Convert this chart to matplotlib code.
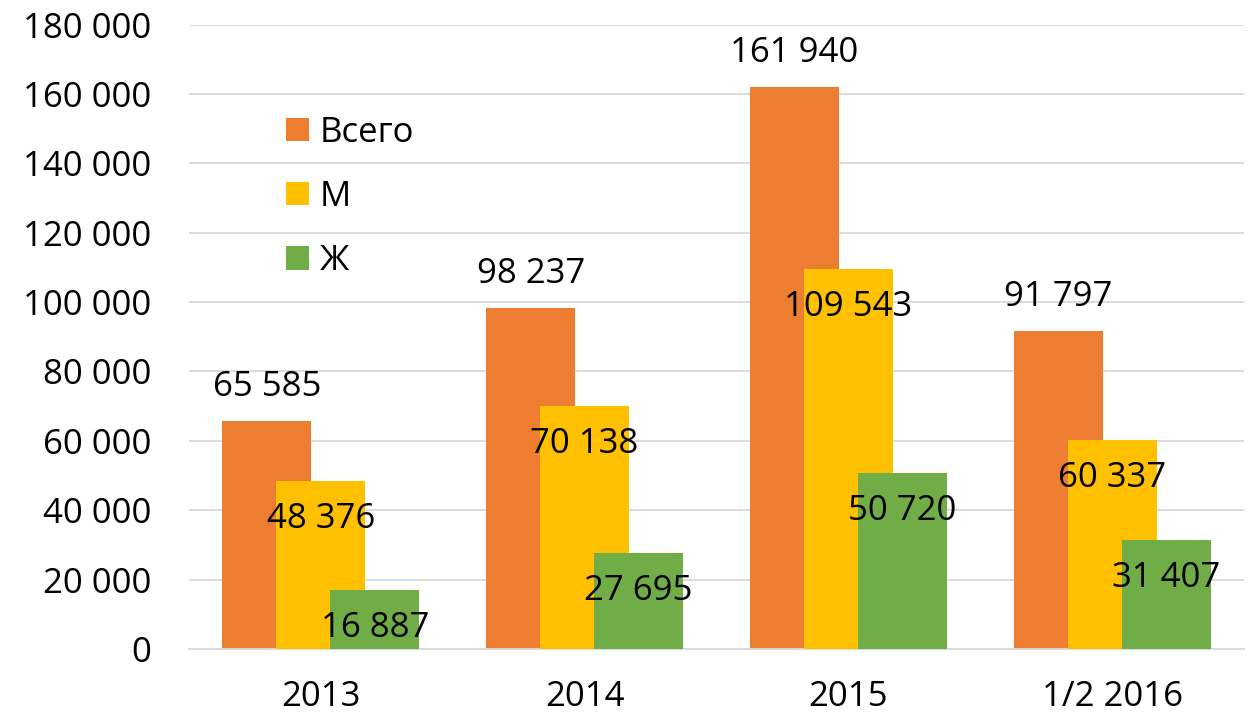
import numpy as np
import matplotlib
matplotlib.use("Agg")
import matplotlib.pyplot as plt

plt.rcParams['font.family'] = ['Open Sans', 'DejaVu Sans']

years = ["2013", "2014", "2015", "1/2 2016"]
total = [65585, 98237, 161940, 91797]
men = [48376, 70138, 109543, 60337]
women = [16887, 27695, 50720, 31407]
series_names = ["Всего", "М", "Ж"]
colors = ["#ed7d31", "#ffc000", "#70ad47"]
yticks = np.arange(0, 180001, 20000)

FS = 25


def fmt(v):
    return f"{v:,}".replace(",", " ")


fig = plt.figure(figsize=(12.48, 7.18), dpi=100)
ax = fig.add_axes([189 / 1248, 69 / 718, 1055 / 1248, 624.5 / 718])

x = np.arange(len(years))
w = 0.3375
step = 0.2047

bars_t = ax.bar(x - step, total, w, color=colors[0], label=series_names[0], zorder=2)
bars_m = ax.bar(x, men, w, color=colors[1], label=series_names[1], zorder=3)
bars_w = ax.bar(x + step, women, w, color=colors[2], label=series_names[2], zorder=4)

# подписи: у "Всего" над столбцом, у М и Ж внутри у вершины
for b, v in zip(bars_t, total):
    ax.annotate(fmt(v), (b.get_x() + b.get_width() / 2, v), xytext=(0, 34),
                textcoords="offset pixels", ha="center", va="center",
                fontsize=FS, zorder=5)
for bars, vals in ((bars_m, men), (bars_w, women)):
    for b, v in zip(bars, vals):
        ax.annotate(fmt(v), (b.get_x() + b.get_width() / 2, v), xytext=(0, -38),
                    textcoords="offset pixels", ha="center", va="center",
                    fontsize=FS, zorder=6)

ax.set_xlim(-0.5, 3.5)
ax.set_ylim(0, 180000)
ax.set_yticks(yticks)
ax.set_yticklabels([fmt(v) for v in yticks])
ax.set_xticks(x)
ax.set_xticklabels(years)
ax.tick_params(axis="both", length=0, labelsize=FS)
ax.tick_params(axis="y", pad=27)
ax.tick_params(axis="x", pad=22)
ax.yaxis.grid(True, color="#d9d9d9", linewidth=1.3, zorder=0)
ax.set_axisbelow(True)
for s in ("top", "right", "left"):
    ax.spines[s].set_visible(False)
ax.spines["bottom"].set_color("#d9d9d9")
ax.spines["bottom"].set_linewidth(1.3)

ax.legend(loc="upper left", bbox_to_anchor=(0.092, 0.854), frameon=False,
          fontsize=FS, borderpad=0, borderaxespad=0, labelspacing=0.87,
          handlelength=0.66, handleheight=0.66, handletextpad=0.32)

fig.savefig("out.png", dpi=100)
